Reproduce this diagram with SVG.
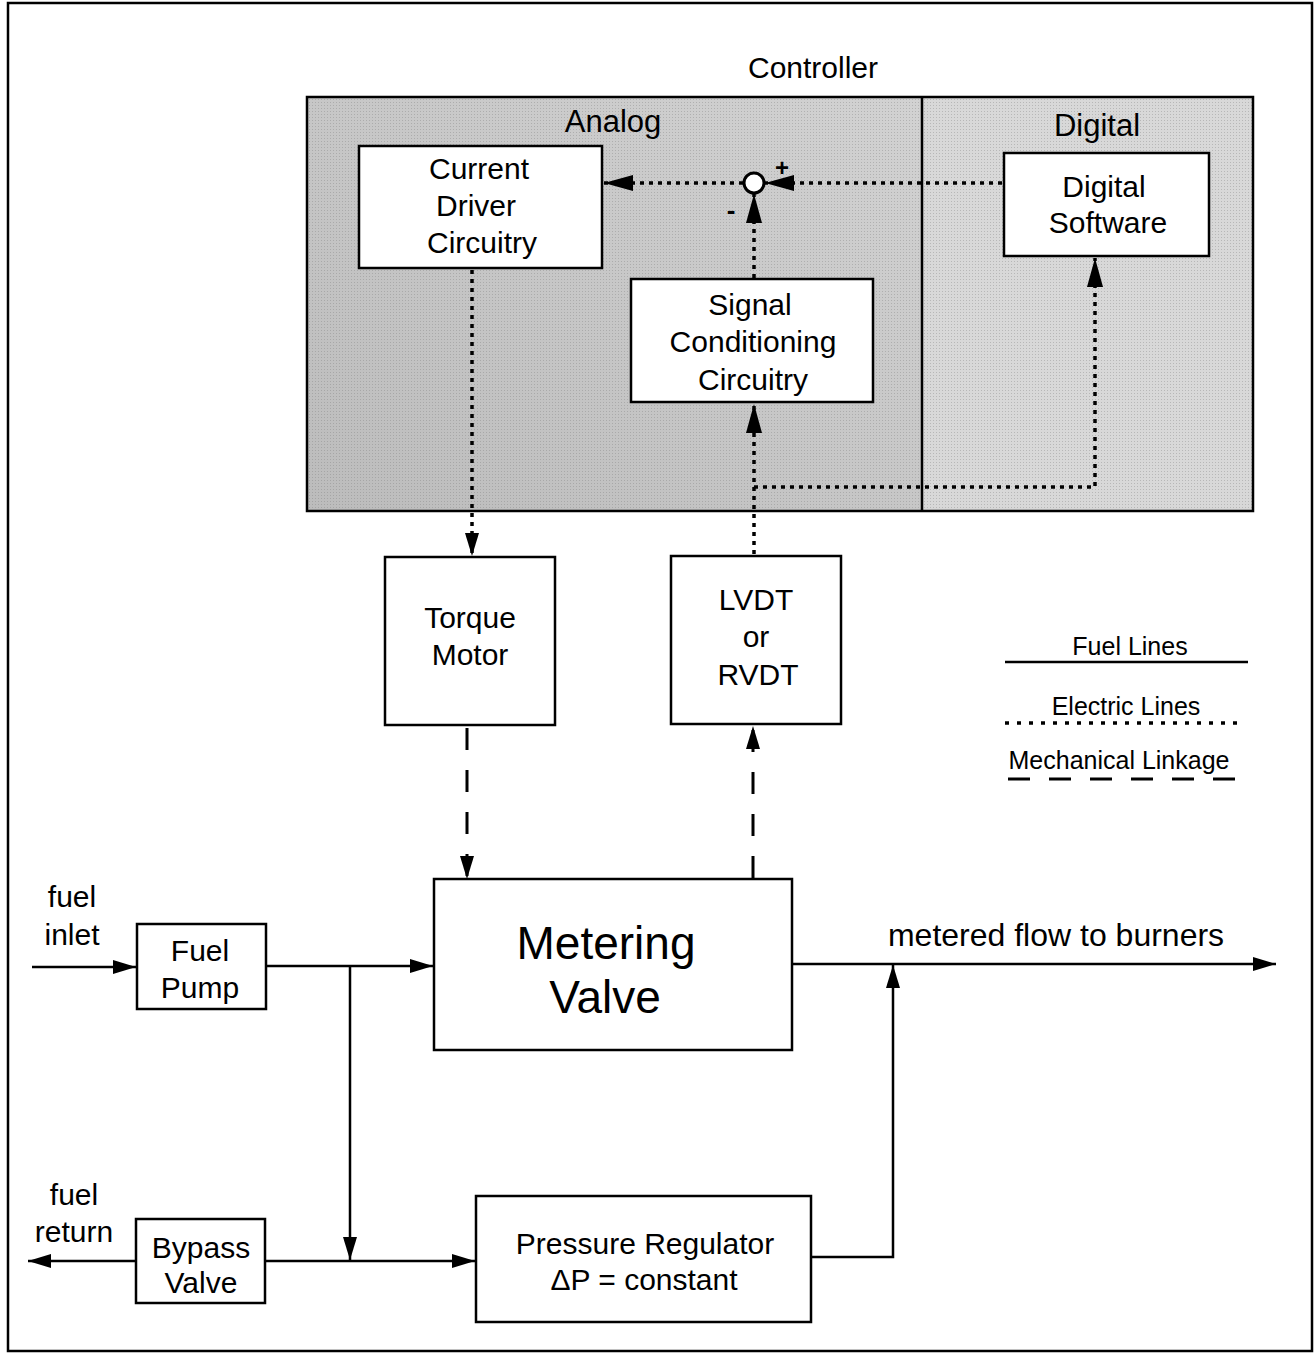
<svg xmlns="http://www.w3.org/2000/svg" width="1316" height="1355" viewBox="0 0 1316 1355">
<style>
text{font-family:"Liberation Sans",Arial,sans-serif;fill:#000;text-anchor:middle}
.lbl{font-size:30px}
.box{fill:#fff;stroke:#000;stroke-width:2.5}
.fuel{fill:none;stroke:#000;stroke-width:2.5}
.elec{fill:none;stroke:#000;stroke-width:3.5;stroke-dasharray:4 5}
.mech{fill:none;stroke:#000;stroke-width:3;stroke-dasharray:22 20}
</style>
<defs>
<linearGradient id="ag" x1="0" y1="1" x2="1" y2="0">
<stop offset="0" stop-color="#bcbcbc"/>
<stop offset="1" stop-color="#d2d2d2"/>
</linearGradient>
<pattern id="dots" width="3" height="3" patternUnits="userSpaceOnUse">
<rect width="3" height="3" fill="none"/>
<rect width="1" height="1" fill="#777" opacity="0.35"/>
</pattern>
<marker id="ah" markerUnits="userSpaceOnUse" markerWidth="24" markerHeight="16" refX="23" refY="8" orient="auto">
<path d="M0,1 L23,8 L0,15 z" fill="#000"/>
</marker>
<marker id="ae" markerUnits="userSpaceOnUse" markerWidth="30" markerHeight="18" refX="29" refY="9" orient="auto">
<path d="M0,1 L29,9 L0,17 z" fill="#000"/>
</marker>
</defs>
<rect width="1316" height="1355" fill="#fff"/>
<rect x="8" y="3" width="1304" height="1348" fill="none" stroke="#000" stroke-width="2.5"/>

<g id="controller">
<text x="813" y="78" style="font-size:30px">Controller</text>
<rect x="307" y="97" width="615" height="414" fill="url(#ag)"/>
<rect x="922" y="97" width="331" height="414" fill="#d8d8d8"/>
<rect x="307" y="97" width="946" height="414" fill="url(#dots)" stroke="#000" stroke-width="2.5"/>
<line x1="922" y1="97" x2="922" y2="511" stroke="#000" stroke-width="2.5"/>
<text x="613" y="132" style="font-size:31px">Analog</text>
<text x="1097" y="136" style="font-size:31px">Digital</text>
</g>

<g id="current-driver">
<rect class="box" x="359" y="146" width="243" height="122"/>
<text class="lbl" x="479" y="179">Current</text>
<text class="lbl" x="476" y="216">Driver</text>
<text class="lbl" x="482" y="253">Circuitry</text>
</g>

<g id="signal-conditioning">
<rect class="box" x="631" y="279" width="242" height="123"/>
<text class="lbl" x="750" y="315">Signal</text>
<text class="lbl" x="753" y="352">Conditioning</text>
<text class="lbl" x="753" y="390">Circuitry</text>
</g>

<g id="digital-software">
<rect class="box" x="1004" y="153" width="205" height="103"/>
<text class="lbl" x="1104" y="197">Digital</text>
<text class="lbl" x="1108" y="233">Software</text>
</g>

<g id="summing-junction">
<circle cx="754" cy="183" r="10" fill="#fff" stroke="#000" stroke-width="3"/>
<text x="782" y="176" style="font-size:24px;font-weight:bold">+</text>
<text x="731" y="219" style="font-size:26px;font-weight:bold">-</text>
</g>

<g id="torque-motor">
<rect class="box" x="385" y="557" width="170" height="168"/>
<text class="lbl" x="470" y="628">Torque</text>
<text class="lbl" x="470" y="665">Motor</text>
</g>

<g id="lvdt">
<rect class="box" x="671" y="556" width="170" height="168"/>
<text class="lbl" x="756" y="610">LVDT</text>
<text class="lbl" x="756" y="647">or</text>
<text class="lbl" x="758" y="685">RVDT</text>
</g>

<g id="metering-valve">
<rect class="box" x="434" y="879" width="358" height="171"/>
<text x="606" y="959" style="font-size:46px">Metering</text>
<text x="605" y="1013" style="font-size:46px">Valve</text>
</g>

<g id="fuel-pump">
<rect class="box" x="137" y="924" width="129" height="85"/>
<text class="lbl" x="200" y="961">Fuel</text>
<text class="lbl" x="200" y="998">Pump</text>
</g>

<g id="bypass-valve">
<rect class="box" x="136" y="1219" width="129" height="84"/>
<text class="lbl" x="201" y="1258">Bypass</text>
<text class="lbl" x="201" y="1293">Valve</text>
</g>

<g id="pressure-regulator">
<rect class="box" x="476" y="1196" width="335" height="126"/>
<text x="645" y="1254" style="font-size:30px">Pressure Regulator</text>
<text x="644" y="1290" style="font-size:30px">ΔP = constant</text>
</g>

<g id="labels">
<text class="lbl" x="72" y="907">fuel</text>
<text class="lbl" x="72" y="945">inlet</text>
<text class="lbl" x="74" y="1205">fuel</text>
<text class="lbl" x="74" y="1242">return</text>
<text x="1056" y="946" style="font-size:32px">metered flow to burners</text>
</g>

<g id="legend">
<text x="1130" y="655" style="font-size:25px">Fuel Lines</text>
<line x1="1005" y1="662" x2="1248" y2="662" stroke="#000" stroke-width="2.5"/>
<text x="1126" y="715" style="font-size:25px">Electric Lines</text>
<line x1="1005" y1="723" x2="1245" y2="723" stroke="#000" stroke-width="3.5" stroke-dasharray="4 8"/>
<text x="1119" y="769" style="font-size:25px">Mechanical Linkage</text>
<line x1="1008" y1="779" x2="1250" y2="779" stroke="#000" stroke-width="3" stroke-dasharray="22 19"/>
</g>

<g id="connectors">
<line class="elec" x1="1002" y1="183" x2="765" y2="183" marker-end="url(#ae)"/>
<line class="elec" x1="743" y1="183" x2="604" y2="183" marker-end="url(#ae)"/>
<line class="elec" x1="754" y1="278" x2="754" y2="194" marker-end="url(#ae)"/>
<line class="elec" x1="472" y1="270" x2="472" y2="556" marker-end="url(#ah)"/>
<line class="elec" x1="754" y1="554" x2="754" y2="404" marker-end="url(#ae)"/>
<path class="elec" d="M754,487 L1095,487 L1095,258" marker-end="url(#ae)"/>
<line class="mech" x1="467" y1="728" x2="467" y2="879" marker-end="url(#ah)"/>
<line class="mech" x1="753" y1="878" x2="753" y2="726" marker-end="url(#ah)"/>
<line class="fuel" x1="32" y1="967" x2="136" y2="967" marker-end="url(#ah)"/>
<line class="fuel" x1="266" y1="966" x2="433" y2="966" marker-end="url(#ah)"/>
<line class="fuel" x1="350" y1="966" x2="350" y2="1260" marker-end="url(#ah)"/>
<line class="fuel" x1="265" y1="1261" x2="475" y2="1261" marker-end="url(#ah)"/>
<line class="fuel" x1="136" y1="1261" x2="28" y2="1261" marker-end="url(#ah)"/>
<line class="fuel" x1="792" y1="964" x2="1276" y2="964" marker-end="url(#ah)"/>
<path class="fuel" d="M811,1257 L893,1257 L893,965" marker-end="url(#ah)"/>
</g>
</svg>
